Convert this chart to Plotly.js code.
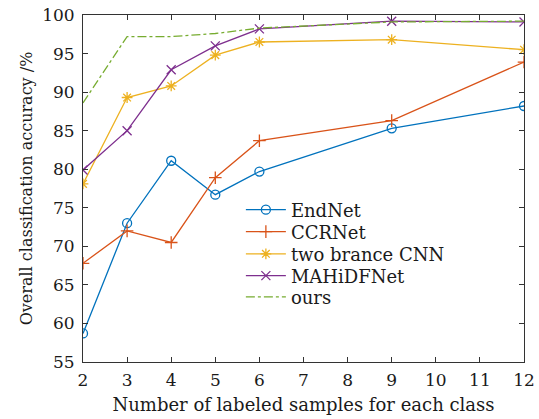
<!DOCTYPE html>
<html><head><meta charset="utf-8">
<script src="https://cdn.plot.ly/plotly-3.0.1.min.js"></script>
<style>html,body{margin:0;padding:0;background:#fff}#chart{width:539px;height:419px}</style>
</head><body><div id="chart"></div>
<script>
const samples = [2, 3, 4, 5, 6, 9, 12];
const endNet = [58.7, 73.0, 81.1, 76.7, 79.7, 85.3, 88.2];
const ccrNet = [67.8, 72.0, 70.5, 78.9, 83.7, 86.3, 93.9];
const twoBranchCNN = [78.1, 89.3, 90.8, 94.8, 96.5, 96.8, 95.5];
const mahidfNet = [79.9, 85.0, 92.9, 96.0, 98.2, 99.2, 99.1];
const ours = [88.6, 97.2, 97.2, 97.6, 98.3, 99.1, 99.2];
const seriesNames = ['EndNet', 'CCRNet', 'two brance CNN', 'MAHiDFNet', 'ours'];
const xTicks = [2,3,4,5,6,7,8,9,10,11,12];
const yTicks = [55,60,65,70,75,80,85,90,95,100];

const font = 'DejaVu Serif, serif';
const txt = '#1a1a1a';
const legendIds = ['legend', 'legend2', 'legend3', 'legend4', 'legend5'];
function tr(i, y, color, symbol, dash, showMarker) {
  return {
    x: samples, y: y, name: seriesNames[i], type: 'scatter', legend: legendIds[i],
    mode: showMarker ? 'lines+markers' : 'lines',
    line: {color: color, width: 1.3, dash: dash || 'solid'},
    marker: {symbol: symbol, size: 9, color: color, line: {color: color, width: 1.3}}
  };
}
const data = [
  tr(0, endNet, '#0072BD', 'circle-open', 'solid', true),
  tr(1, ccrNet, '#D95319', 'cross-thin-open', 'solid', true),
  tr(2, twoBranchCNN, '#EDB120', 'asterisk-open', 'solid', true),
  tr(3, mahidfNet, '#7E2F8E', 'x-thin-open', 'solid', true),
  tr(4, ours, '#77AC30', 'circle', 'dashdot', false)
];
const legendY = [0.438, 0.375, 0.311, 0.248, 0.187];
const layout = {
  width: 539, height: 419,
  margin: {l: 83, r: 15, t: 15, b: 57},
  paper_bgcolor: '#fff', plot_bgcolor: '#fff',
  font: {family: font, size: 17, color: txt},
  showlegend: true,
  xaxis: {
    range: [2, 12], tickvals: xTicks, ticktext: xTicks.map(String),
    showgrid: false, zeroline: false, showline: true, mirror: 'ticks',
    linecolor: '#333', linewidth: 1, ticks: 'inside', ticklen: 5, tickcolor: '#333',
    ticklabelstandoff: 3,
    title: {text: 'Number of labeled samples for each class', font: {family: font, size: 18, color: txt}, standoff: 8},
    tickfont: {family: font, size: 17, color: txt}
  },
  yaxis: {
    range: [55, 100], tickvals: yTicks, ticktext: yTicks.map(String),
    showgrid: false, zeroline: false, showline: true, mirror: 'ticks',
    linecolor: '#333', linewidth: 1, ticks: 'inside', ticklen: 5, tickcolor: '#333',
    ticklabelstandoff: 4,
    title: {text: 'Overall classification accuracy /%', font: {family: font, size: 16, color: txt}, standoff: 5},
    tickfont: {family: font, size: 17, color: txt}
  }
};
legendIds.forEach((id, i) => {
  layout[id] = {x: 0.358, y: legendY[i], xanchor: 'left', yanchor: 'middle', itemwidth: 40,
    bgcolor: 'rgba(0,0,0,0)', font: {family: font, size: 18, color: txt}};
});
Plotly.newPlot('chart', data, layout, {displayModeBar: false, staticPlot: true});
</script></body></html>
